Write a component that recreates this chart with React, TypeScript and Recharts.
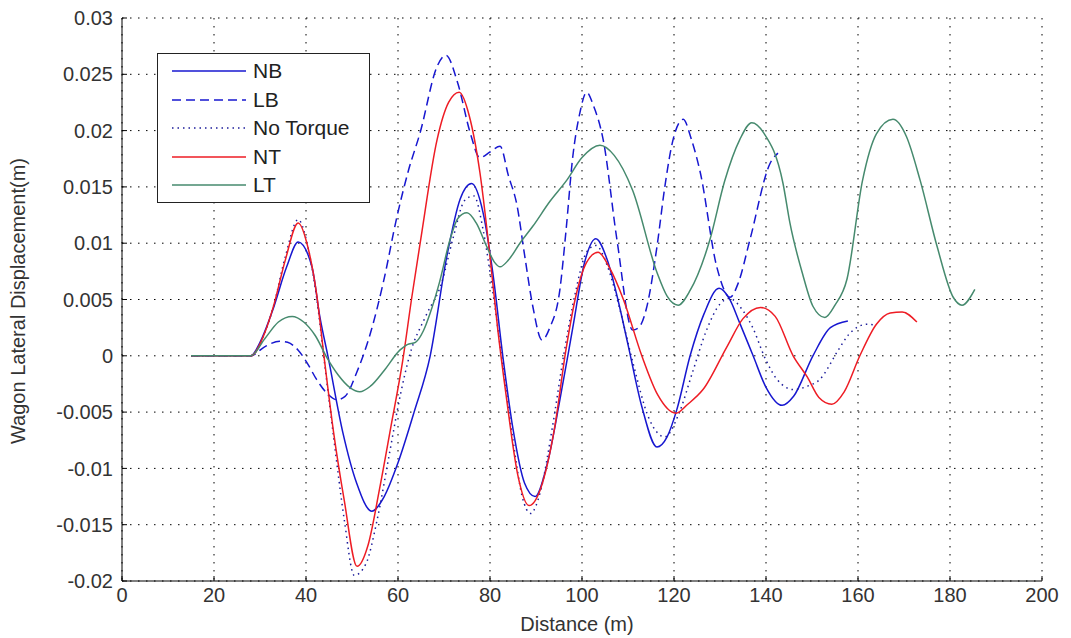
import { LineChart, Line, XAxis, YAxis, CartesianGrid } from 'recharts'

// distance (m) / lateral displacement (m)
const nbDist = [15, 28, 30, 32.8, 35.8, 38.3, 41.3, 43, 44.8, 48, 51, 54.3, 57, 60, 63.5, 67, 70.6, 73.5, 76, 78.5, 80.6, 82.9, 85, 87.5, 89.8, 92.5, 95.2, 98, 100.5, 103, 105.5, 107.8, 110, 113, 116.3, 118.5, 120.6, 123.5, 126.5, 129.8, 132, 134.3, 137.2, 140, 143.5, 146, 150.2, 154, 157.8]
const nbDisp = [0, 0, 0.0012, 0.0041, 0.0079, 0.0101, 0.0079, 0.0035, -0.0001, -0.0068, -0.0113, -0.0138, -0.0125, -0.0095, -0.005, 0, 0.0088, 0.0139, 0.0153, 0.0127, 0.0074, -0.0004, -0.0065, -0.0113, -0.0125, -0.0095, -0.0039, 0.0025, 0.0082, 0.0104, 0.0085, 0.005, 0.001, -0.0045, -0.0081, -0.0072, -0.0048, 0, 0.0037, 0.006, 0.0051, 0.0029, 0, -0.0028, -0.0044, -0.0036, 0, 0.0025, 0.0031]

const lbDist = [15, 28, 31, 34.3, 36, 38.3, 40.2, 42.3, 44.5, 46.7, 48.5, 51, 54, 56.8, 59.8, 62.3, 64.8, 68.5, 70.4, 73, 75.7, 77.8, 80, 82.2, 84, 85.9, 87.5, 89.3, 91.3, 93, 95.2, 96.5, 98, 99.5, 101, 102.5, 104.6, 107.6, 111, 112.3, 114, 116.3, 118, 119.8, 122, 123.8, 125.7, 129.3, 132.2, 134, 136.5, 140.9, 142.6]
const lbDisp = [0, 0, 0.0008, 0.0013, 0.0012, 0.0005, -0.0006, -0.0021, -0.0033, -0.0039, -0.0036, -0.0015, 0.002, 0.0065, 0.0124, 0.0165, 0.0198, 0.0257, 0.0267, 0.0242, 0.0198, 0.0176, 0.0181, 0.0186, 0.016, 0.0133, 0.009, 0.0044, 0.0014, 0.0025, 0.0059, 0.011, 0.0177, 0.0215, 0.0234, 0.0222, 0.0192, 0.0103, 0.0023, 0.0025, 0.0042, 0.0097, 0.015, 0.0192, 0.021, 0.0192, 0.0163, 0.0079, 0.0052, 0.0065, 0.0103, 0.0171, 0.018]

const ntqDist = [15, 28, 31, 33, 35.5, 38.3, 40.5, 42.3, 43.9, 46, 48.3, 50.5, 53, 55.5, 58, 60.5, 62.5, 66, 69.5, 72, 74.5, 76.5, 78.5, 80.5, 82.5, 85, 87, 88.8, 91, 93.5, 96, 98.5, 101, 103, 105.5, 108, 111, 114.5, 118, 121, 124, 127, 130, 132, 135, 137, 140, 142.4, 146, 149, 151.7, 155.7, 158, 162, 164]
const ntqDisp = [0, 0, 0.002, 0.0045, 0.0088, 0.0121, 0.0095, 0.0052, -0.0002, -0.0072, -0.0145, -0.0195, -0.0185, -0.0145, -0.009, -0.0035, 0, 0.0035, 0.0065, 0.0105, 0.0138, 0.0142, 0.0112, 0.006, 0, -0.0075, -0.0125, -0.014, -0.012, -0.0065, 0, 0.0055, 0.0092, 0.0098, 0.008, 0.0045, -0.0005, -0.0055, -0.0072, -0.0052, -0.0015, 0.0022, 0.0046, 0.0051, 0.004, 0.0026, -0.0004, -0.0021, -0.003, -0.0027, -0.0021, 0.0005, 0.0019, 0.0028, 0.0027]

const ntDist = [15, 28, 31, 33, 35.5, 38.3, 40.5, 42.3, 43.9, 46, 48.3, 51.1, 53.5, 56, 58.5, 61, 63, 65, 68.5, 71, 73.3, 75.5, 77.8, 80, 81.7, 83.5, 86, 88.5, 91, 94, 96.5, 98.5, 101, 103.5, 106, 109, 113, 116.5, 120.4, 123, 126.3, 131.5, 135, 138.8, 142, 145.9, 149, 151.5, 154.3, 157, 160.4, 164, 167, 169.6, 172.8]
const ntDisp = [0, 0, 0.002, 0.0045, 0.0085, 0.0118, 0.0095, 0.0055, 0, -0.0068, -0.0128, -0.0187, -0.0168, -0.0118, -0.0062, -0.0005, 0.0052, 0.0105, 0.0192, 0.0225, 0.0234, 0.0213, 0.0163, 0.0088, 0.0023, -0.0035, -0.0105, -0.0133, -0.0118, -0.0065, 0.0005, 0.005, 0.0083, 0.0092, 0.0078, 0.005, 0, -0.0035, -0.0051, -0.0043, -0.003, 0.0008, 0.0033, 0.0043, 0.0035, 0, -0.0019, -0.0037, -0.0043, -0.0032, 0, 0.0028, 0.0038, 0.0039, 0.003]

const ltDist = [15, 28, 31, 34, 37, 39.5, 42, 44.6, 47, 49.5, 51.7, 54, 57, 60.4, 62, 63.8, 65.5, 67, 69, 71.3, 73, 75, 77, 79.3, 81, 82.2, 84, 86.5, 89.3, 93, 96.7, 100, 103.9, 107, 111, 116.3, 118.5, 120.9, 123.5, 127.8, 131, 134.3, 136.9, 139.5, 143.7, 145.2, 148, 150.2, 152.8, 155, 157.6, 161, 164, 167.6, 170.5, 173.5, 177.2, 180.7, 182.6, 185.4]
const ltDisp = [0, 0, 0.0015, 0.003, 0.0035, 0.003, 0.0018, -0.0002, -0.0017, -0.0028, -0.0032, -0.0027, -0.0013, 0.0005, 0.001, 0.0012, 0.0022, 0.0038, 0.0065, 0.0103, 0.0122, 0.0127, 0.0118, 0.0097, 0.0083, 0.0079, 0.0085, 0.01, 0.0115, 0.0137, 0.0156, 0.0176, 0.0187, 0.0178, 0.0147, 0.0074, 0.0053, 0.0045, 0.0058, 0.0103, 0.0155, 0.0192, 0.0207, 0.0198, 0.0153, 0.0118, 0.0072, 0.0044, 0.0034, 0.0045, 0.0068, 0.0156, 0.0197, 0.021, 0.0195, 0.0156, 0.0097, 0.0052, 0.0045, 0.0059]

const xTicks = [0, 20, 40, 60, 80, 100, 120, 140, 160, 180, 200]
const yTicks = [-0.02, -0.015, -0.01, -0.005, 0, 0.005, 0.01, 0.015, 0.02, 0.025, 0.03]

const toPoints = (xs: number[], ys: number[]) => xs.map((x, i) => ({ x, y: ys[i] }))

const FONT = '"Liberation Sans", Arial, sans-serif'

const SERIES = [
  { name: 'NB', data: toPoints(nbDist, nbDisp), color: '#1717d0', dash: undefined },
  { name: 'LB', data: toPoints(lbDist, lbDisp), color: '#1717d0', dash: '9 5' },
  { name: 'No Torque', data: toPoints(ntqDist, ntqDisp), color: '#1d1d9a', dash: '1.5 4' },
  { name: 'NT', data: toPoints(ntDist, ntDisp), color: '#ee1c24', dash: undefined },
  { name: 'LT', data: toPoints(ltDist, ltDisp), color: '#468a6e', dash: undefined },
]

// boxed legend sitting inside the plot, top-left
function LegendBox() {
  return (
    <div style={{ position: 'absolute', left: 157, top: 53, width: 213, height: 150, border: '1.5px solid #222', background: '#fff', boxSizing: 'border-box', paddingTop: 3 }}>
      {SERIES.map((s) => (
        <div key={s.name} style={{ display: 'flex', alignItems: 'center', height: 28.5 }}>
          <svg width={95} height={10}>
            <line x1={14} x2={88} y1={5} y2={5} stroke={s.color} strokeWidth={1.5} strokeDasharray={s.dash} />
          </svg>
          <span style={{ fontFamily: FONT, fontSize: 21, color: '#222' }}>{s.name}</span>
        </div>
      ))}
    </div>
  )
}

function YTitle() {
  return (
    <text x={25} y={301} transform="rotate(-90 25 301)" textAnchor="middle" fontFamily={FONT} fontSize={20} fill="#333">
      Wagon Lateral Displacement(m)
    </text>
  )
}

function XTitle() {
  return (
    <text x={577} y={631} textAnchor="middle" fontFamily={FONT} fontSize={20} fill="#333">
      Distance (m)
    </text>
  )
}

export default function App() {
  const tickStyle = { fill: '#333', fontSize: 20, fontFamily: FONT }
  return (
    <div style={{ position: 'absolute', left: 0, top: 0, width: 1071, height: 638, background: '#fff' }}>
      <LineChart width={1071} height={638} margin={{ top: 18, right: 29, bottom: 0, left: 0 }}>
        <CartesianGrid stroke="#000" strokeDasharray="1.5 6.5" />
        <XAxis
          type="number"
          dataKey="x"
          domain={[0, 200]}
          ticks={xTicks}
          height={57}
          tick={tickStyle}
          tickSize={-5}
          tickMargin={12}
          axisLine={{ stroke: '#000' }}
          tickLine={{ stroke: '#000' }}
          label={<XTitle />}
        />
        <XAxis xAxisId="top" orientation="top" type="number" domain={[0, 200]} ticks={xTicks} height={0} tick={false} tickSize={-5} axisLine={{ stroke: '#000' }} tickLine={{ stroke: '#000' }} />
        <YAxis
          type="number"
          domain={[-0.02, 0.03]}
          ticks={yTicks}
          width={122}
          tick={tickStyle}
          tickSize={-5}
          tickMargin={14}
          axisLine={{ stroke: '#000' }}
          tickLine={{ stroke: '#000' }}
          label={<YTitle />}
        />
        <YAxis yAxisId="right" orientation="right" type="number" domain={[-0.02, 0.03]} ticks={yTicks} width={0} tick={false} tickSize={-5} axisLine={{ stroke: '#000' }} tickLine={{ stroke: '#000' }} />
        {SERIES.map((s) => (
          <Line
            key={s.name}
            data={s.data}
            dataKey="y"
            name={s.name}
            type="monotone"
            stroke={s.color}
            strokeWidth={1.5}
            strokeDasharray={s.dash}
            dot={false}
            activeDot={false}
            isAnimationActive={false}
          />
        ))}
      </LineChart>
      <LegendBox />
    </div>
  )
}
